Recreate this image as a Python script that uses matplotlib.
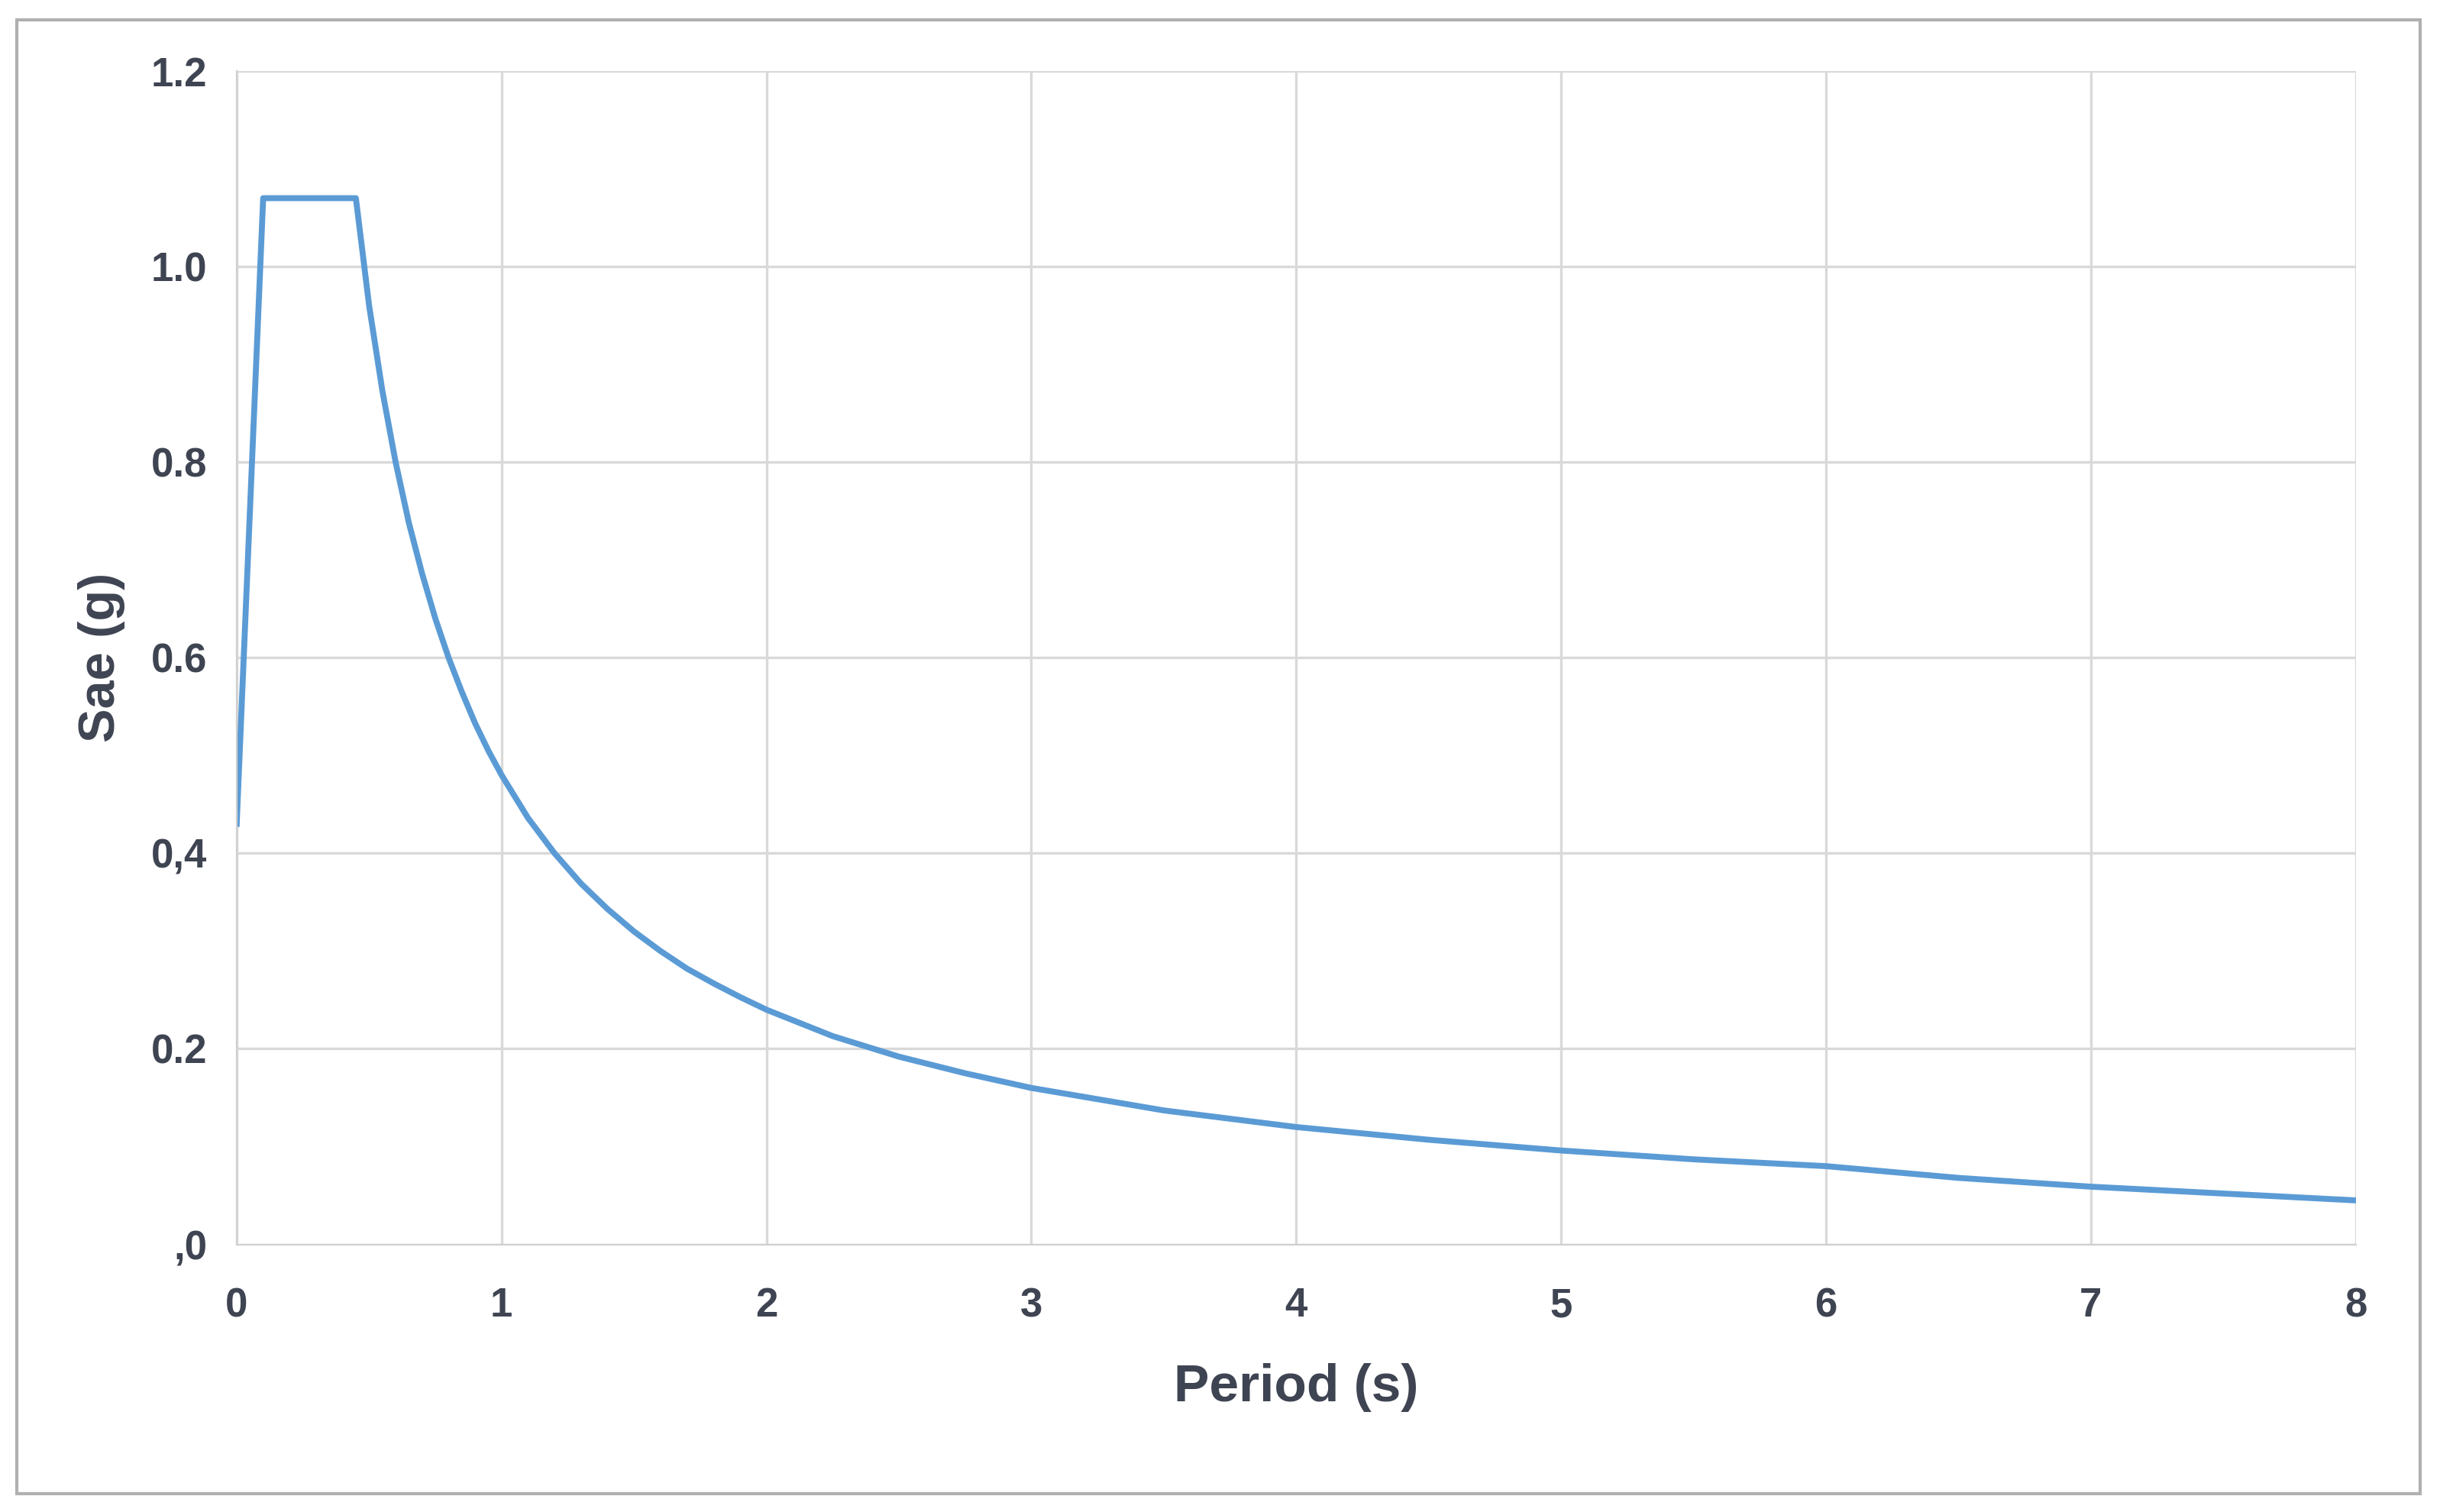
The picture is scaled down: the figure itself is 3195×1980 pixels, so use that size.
import matplotlib
matplotlib.use("Agg")
from matplotlib import pyplot as plt
from matplotlib.patches import Rectangle

plt.rcParams['font.family'] = ['Liberation Sans', 'DejaVu Sans']

# spectrum points
period = [0.0, 0.1, 0.45, 0.5, 0.55, 0.6, 0.65, 0.7, 0.75, 0.8, 0.85, 0.9, 0.95, 1.0,
          1.1, 1.2, 1.3, 1.4, 1.5, 1.6, 1.7, 1.8, 1.9, 2.0, 2.25, 2.5, 2.75, 3.0,
          3.5, 4.0, 4.5, 5.0, 5.5, 6.0, 6.5, 7.0, 7.5, 8.0]
sae = [0.43, 1.07, 1.07, 0.96, 0.873, 0.80, 0.738, 0.686, 0.64, 0.60, 0.565, 0.533, 0.505, 0.48,
       0.436, 0.40, 0.369, 0.343, 0.32, 0.30, 0.282, 0.267, 0.253, 0.24, 0.213, 0.192, 0.175, 0.16,
       0.137, 0.12, 0.107, 0.096, 0.087, 0.08, 0.068, 0.059, 0.052, 0.045]
yticks = [0.0, 0.2, 0.4, 0.6, 0.8, 1.0, 1.2]
ylabels = [",0", "0.2", "0,4", "0.6", "0.8", "1.0", "1.2"]
xticks = [0, 1, 2, 3, 4, 5, 6, 7, 8]

txt = "#3f4452"
fig = plt.figure(figsize=(15.975, 9.9), dpi=200)
fig.patches.append(Rectangle((0.007, 0.012), 0.985, 0.975, transform=fig.transFigure,
                             fill=False, edgecolor="#b0b0b0", linewidth=1.5))
ax = fig.add_axes([0.097, 0.177, 0.8685, 0.776])
ax.plot(period, sae, color="#5b9bd5", linewidth=2.8)
ax.set_xlim(0, 8)
ax.set_ylim(0, 1.2)
ax.set_xticks(xticks)
ax.set_yticks(yticks)
ax.set_yticklabels(ylabels)
ax.grid(True, color="#d9d9d9", linewidth=1.2)
for s in ["top", "right"]:
    ax.spines[s].set_visible(False)
for s in ["left", "bottom"]:
    ax.spines[s].set_color("#d0d0d0")
ax.tick_params(length=0, labelsize=19, labelcolor=txt)
ax.tick_params(axis="x", pad=20)
ax.tick_params(axis="y", pad=14)
for lab in ax.get_xticklabels() + ax.get_yticklabels():
    lab.set_fontweight("bold")
ax.set_xlabel("Period (s)", fontsize=25, fontweight="bold", color=txt, labelpad=18)
ax.set_ylabel("Sae (g)", fontsize=24, fontweight="bold", color=txt, labelpad=12)
fig.savefig("out.png", dpi=200)
